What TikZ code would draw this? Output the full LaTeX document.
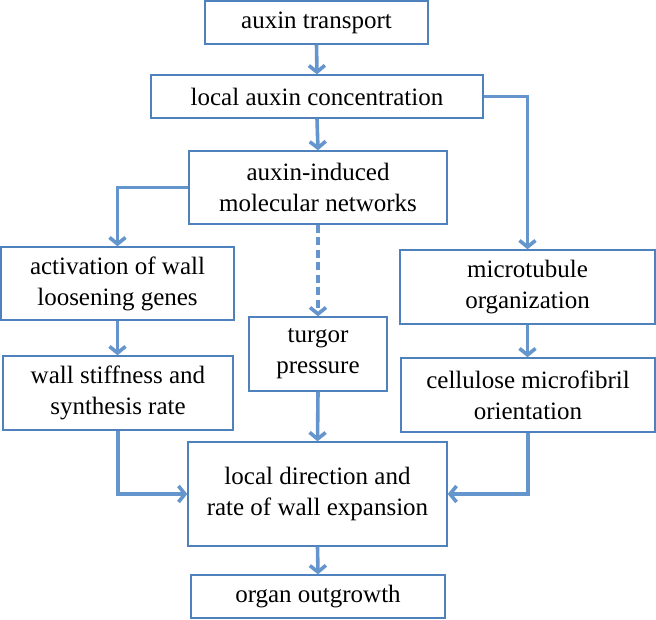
\documentclass[tikz,border=0pt]{standalone}
\usepackage{fontspec}
\setmainfont{Liberation Serif}
\usetikzlibrary{arrows.meta}
\definecolor{boxblue}{HTML}{4F81BD}
\definecolor{arrblue}{HTML}{6495CD}
\tikzset{
  box/.style={draw=boxblue, line width=1.4pt, fill=white, align=center, inner sep=2pt,
    font=\fontsize{25}{31}\selectfont, text=black},
  conn/.style={draw=arrblue, line width=3.6pt, -{Straight Barb[length=6.5pt,width=16pt,line width=3.6pt]}},
  dashconn/.style={conn, dash pattern=on 8pt off 4.5pt}
}
\begin{document}
\begin{tikzpicture}[x=1pt,y=-1pt]
\useasboundingbox (0,0) rectangle (656,619);
\node[box, minimum width=223pt, minimum height=43pt] (at) at (316.5,22.5) {auxin transport};
\node[box, minimum width=332pt, minimum height=43pt] (lac) at (317,96.5) {local auxin concentration};
\node[box, minimum width=258pt, minimum height=73pt] (ain) at (318,187.5) {auxin-induced\\molecular networks};
\node[box, minimum width=233pt, minimum height=73pt] (act) at (117.5,283.5) {activation of wall\\loosening genes};
\node[box, minimum width=255pt, minimum height=74pt] (mic) at (527.5,287) {microtubule\\organization};
\node[box, minimum width=138pt, minimum height=74pt] (tur) at (318,354) {turgor\\pressure};
\node[box, minimum width=230pt, minimum height=74pt] (wst) at (118,393) {wall stiffness and\\synthesis rate};
\node[box, minimum width=254pt, minimum height=74pt] (cel) at (528,395) {cellulose microfibril\\orientation};
\node[box, minimum width=259pt, minimum height=104pt] (ldr) at (317.5,494) {local direction and\\rate of wall expansion};
\node[box, minimum width=254pt, minimum height=43pt] (org) at (318,596.5) {organ outgrowth};

\draw[conn] (at.south) -- (lac.north);
\draw[conn] (lac.south) -- (ain.north);
\draw[conn] (lac.east) -| (mic.north);
\draw[conn] (ain.west) -| (act.north);
\draw[dashconn] (ain.south) -- (tur.north);
\draw[conn] (act.south) -- (act.south |- wst.north);
\draw[conn] (mic.south) -- (mic.south |- cel.north);
\draw[conn] (tur.south) -- (ldr.north);
\draw[conn] (wst.south) |- (ldr.west);
\draw[conn] (cel.south) |- (ldr.east);
\draw[conn] (ldr.south) -- (org.north);
\end{tikzpicture}
\end{document}
